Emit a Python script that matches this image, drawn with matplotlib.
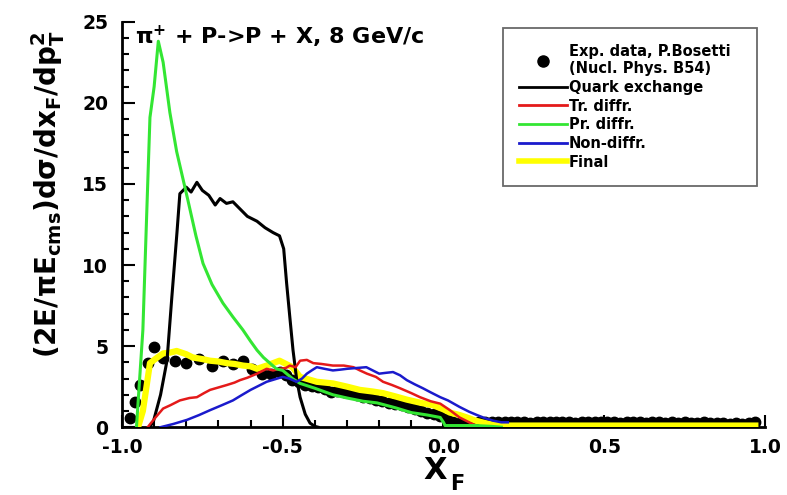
import matplotlib
matplotlib.use("Agg")
import matplotlib.pyplot as plt
from matplotlib.ticker import MultipleLocator
from matplotlib.lines import Line2D

plt.rcParams['font.family'] = ['DejaVu Sans']
plt.rcParams['font.weight'] = 'bold'
plt.rcParams['mathtext.fontset'] = 'dejavusans'
plt.rcParams['mathtext.default'] = 'bf'

# Experimental data (P. Bosetti, Nucl. Phys. B54)
exp_x = [-0.975, -0.96, -0.945, -0.92, -0.90, -0.872, -0.835, -0.80, -0.76, -0.72,
         -0.686, -0.655, -0.625, -0.595, -0.565, -0.535,
         -0.51, -0.49, -0.47, -0.45, -0.43, -0.41, -0.39, -0.37, -0.35, -0.33,
         -0.31, -0.29, -0.27, -0.25, -0.23, -0.21, -0.19, -0.17, -0.15, -0.13,
         -0.11, -0.09, -0.07, -0.05, -0.03, -0.01,
         0.01, 0.03, 0.05, 0.07, 0.09, 0.11, 0.13, 0.15, 0.17, 0.19,
         0.21, 0.23, 0.25, 0.27, 0.29, 0.31, 0.33, 0.35, 0.37, 0.39,
         0.41, 0.43, 0.45, 0.47, 0.49, 0.51, 0.53, 0.55, 0.57, 0.59,
         0.61, 0.63, 0.65, 0.67, 0.69, 0.71, 0.73, 0.75, 0.77, 0.79,
         0.81, 0.83, 0.85, 0.87, 0.89, 0.91, 0.93, 0.95, 0.97]
exp_y = [0.55, 1.55, 2.6, 3.95, 4.95, 4.25, 4.1, 3.95, 4.2, 3.8,
         4.1, 3.9, 4.1, 3.6, 3.3, 3.3,
         3.4, 3.2, 2.9, 2.8, 2.6, 2.55, 2.5, 2.35, 2.2, 2.25,
         2.2, 2.1, 2.0, 1.85, 1.8, 1.7, 1.6, 1.5, 1.45, 1.35,
         1.25, 1.1, 1.0, 0.9, 0.8, 0.7,
         0.5, 0.35, 0.25, 0.2, 0.25, 0.3, 0.3, 0.35, 0.3, 0.3,
         0.35, 0.3, 0.3, 0.25, 0.3, 0.3, 0.35, 0.3, 0.3, 0.3,
         0.25, 0.3, 0.3, 0.35, 0.3, 0.3, 0.3, 0.25, 0.3, 0.3,
         0.3, 0.25, 0.3, 0.3, 0.25, 0.3, 0.25, 0.3, 0.25, 0.25,
         0.3, 0.25, 0.25, 0.25, 0.2, 0.25, 0.2, 0.25, 0.3]

# Quark exchange
qe_x = [-0.915, -0.903, -0.88, -0.86, -0.845, -0.829, -0.82, -0.80, -0.785, -0.767,
        -0.75, -0.73, -0.71, -0.695, -0.675, -0.655, -0.63, -0.61, -0.58, -0.555,
        -0.53, -0.51, -0.497, -0.488, -0.478, -0.468, -0.457, -0.446, -0.43, -0.415,
        -0.40, -0.39]
qe_y = [0, 0.3, 2.0, 4.1, 8.0, 12.0, 14.4, 14.8, 14.5, 15.1,
        14.6, 14.3, 13.7, 14.1, 13.8, 13.9, 13.4, 13.0, 12.7, 12.3,
        12.0, 11.8, 11.0, 8.9, 6.8, 4.75, 3.0, 1.85, 0.8, 0.25,
        0.05, 0]

# Target diffraction
tr_x = [-0.92, -0.90, -0.872, -0.85, -0.82, -0.79, -0.767, -0.745, -0.726, -0.70,
        -0.674, -0.65, -0.633, -0.61, -0.58, -0.55, -0.53, -0.51, -0.49, -0.478,
        -0.46, -0.446, -0.425, -0.405, -0.38, -0.344, -0.31, -0.28, -0.26, -0.238,
        -0.21, -0.188, -0.16, -0.135, -0.10, -0.073, -0.04, -0.01, 0.02, 0.05,
        0.08, 0.10, 0.12]
tr_y = [0, 0.5, 1.15, 1.35, 1.65, 1.8, 1.85, 2.1, 2.3, 2.45,
        2.6, 2.75, 2.9, 3.05, 3.3, 3.6, 3.5, 3.6, 3.65, 3.8,
        3.7, 4.1, 4.15, 3.95, 3.9, 3.8, 3.8, 3.7, 3.5, 3.3,
        3.1, 2.8, 2.6, 2.4, 2.1, 1.85, 1.6, 1.45, 1.05, 0.6,
        0.3, 0.1, 0]

# Projectile diffraction
pr_x = [-0.955, -0.935, -0.92, -0.913, -0.90, -0.887, -0.872, -0.851, -0.83, -0.795,
        -0.77, -0.748, -0.72, -0.686, -0.655, -0.624, -0.60, -0.58, -0.56, -0.54,
        -0.52, -0.50, -0.47, -0.446, -0.40, -0.344, -0.30, -0.25, -0.207, -0.15,
        -0.10, -0.05, -0.01, 0.0, 0.005, 0.05, 0.10, 0.15, 0.18]
pr_y = [0, 6, 15, 19.1, 21.0, 23.8, 22.5, 19.4, 17.0, 14.0,
        11.8, 10.1, 8.8, 7.65, 6.8, 6.0, 5.3, 4.75, 4.3, 3.95,
        3.6, 3.5, 3.0, 2.7, 2.4, 2.0, 1.8, 1.6, 1.5, 1.2,
        0.9, 0.75, 0.6, 0.3, 0.1, 0.1, 0.1, 0.05, 0]

# Non-diffractive
nd_x = [-0.88, -0.84, -0.798, -0.76, -0.726, -0.69, -0.655, -0.63, -0.60, -0.575,
        -0.55, -0.525, -0.50, -0.48, -0.457, -0.44, -0.425, -0.41, -0.394, -0.37,
        -0.344, -0.32, -0.30, -0.27, -0.24, -0.22, -0.20, -0.18, -0.157, -0.135,
        -0.114, -0.09, -0.064, -0.04, -0.01, 0.014, 0.05, 0.08, 0.104, 0.13,
        0.155, 0.18, 0.20]
nd_y = [0, 0.2, 0.45, 0.75, 1.05, 1.35, 1.65, 1.95, 2.3, 2.55,
        2.8, 2.95, 3.1, 3.0, 2.8, 3.0, 3.3, 3.5, 3.7, 3.6,
        3.5, 3.55, 3.6, 3.65, 3.7, 3.5, 3.3, 3.35, 3.4, 3.2,
        2.9, 2.65, 2.4, 2.15, 1.85, 1.65, 1.25, 0.95, 0.75, 0.55,
        0.4, 0.3, 0.3]

# Final (sum)
fin_x = [-0.95, -0.935, -0.92, -0.913, -0.89, -0.872, -0.85, -0.83, -0.80, -0.78,
         -0.75, -0.726, -0.70, -0.674, -0.65, -0.624, -0.60, -0.58, -0.55, -0.53,
         -0.51, -0.49, -0.47, -0.446, -0.42, -0.394, -0.344, -0.30, -0.26, -0.22,
         -0.188, -0.15, -0.114, -0.07, -0.032, 0.0, 0.02, 0.05, 0.073, 0.10,
         0.13, 0.155, 0.20, 0.30, 0.50, 0.70, 0.90, 0.97]
fin_y = [0, 1.0, 3.0, 3.95, 4.3, 4.55, 4.6, 4.7, 4.5, 4.3,
         4.2, 4.1, 4.05, 3.95, 3.9, 3.8, 3.75, 3.6, 3.8, 3.95,
         4.1, 3.9, 3.7, 3.1, 2.95, 2.8, 2.7, 2.5, 2.3, 2.2,
         2.1, 1.9, 1.7, 1.5, 1.35, 1.1, 0.9, 0.75, 0.6, 0.4,
         0.25, 0.15, 0.1, 0.1, 0.1, 0.1, 0.1, 0.1]

fig = plt.figure(figsize=(7.87, 4.95), dpi=100)
ax = fig.add_axes([0.155, 0.137, 0.817, 0.819])

ax.plot(exp_x, exp_y, 'o', color='black', markersize=7.5, zorder=3)
ax.plot(fin_x, fin_y, color='#ffff00', lw=4.5, zorder=4)
ax.plot(qe_x, qe_y, color='black', lw=2.2, zorder=5)
ax.plot(tr_x, tr_y, color='#e41a1a', lw=1.8, zorder=5)
ax.plot(pr_x, pr_y, color='#33e633', lw=2.2, zorder=5)
ax.plot(nd_x, nd_y, color='#1a1acc', lw=1.8, zorder=5)

ax.set_xlim(-1.0, 1.0)
ax.set_ylim(0, 25)
ax.xaxis.set_major_locator(MultipleLocator(0.5))
ax.xaxis.set_minor_locator(MultipleLocator(0.1))
ax.yaxis.set_major_locator(MultipleLocator(5))
ax.yaxis.set_minor_locator(MultipleLocator(1))
ax.set_xticks([-1.0, -0.5, 0.0, 0.5, 1.0])
ax.set_xticklabels(['-1.0', '-0.5', '0.0', '0.5', '1.0'])
ax.tick_params(which='both', direction='in', width=1.5, labelsize=13.5)
ax.tick_params(axis='x', which='both', pad=8)
ax.tick_params(axis='y', which='both', pad=10)
ax.tick_params(which='major', length=9)
ax.tick_params(which='minor', length=5)
for s in ['top', 'right']:
    ax.spines[s].set_visible(False)
for s in ['left', 'bottom']:
    ax.spines[s].set_linewidth(2)
for lab in ax.get_xticklabels() + ax.get_yticklabels():
    lab.set_fontweight('bold')

ax.set_ylabel(r'(2E/$\pi$E$_{cms}$)d$\sigma$/dx$_F$/dp$_T^{2}$', fontsize=20, fontweight='bold')
ax.yaxis.set_label_coords(-0.086, 0.575)

# x-axis label "X" with a lowered subscript "F"
ax.set_xlabel('X', fontsize=22, fontweight='bold')
ax.xaxis.set_label_coords(0.487, -0.07)
ax.text(0.521, -0.116, 'F', transform=ax.transAxes, ha='center', va='top',
        fontsize=15, fontweight='bold', clip_on=False)

ax.text(0.02, 0.995, r'$\pi^{+}$ + P->P + X, 8 GeV/c', transform=ax.transAxes,
        ha='left', va='top', fontsize=16, fontweight='bold')

handles = [
    Line2D([], [], ls='none', marker='o', color='black', markersize=8),
    Line2D([], [], color='black', lw=2),
    Line2D([], [], color='#e41a1a', lw=2),
    Line2D([], [], color='#33e633', lw=2),
    Line2D([], [], color='#1a1acc', lw=2),
    Line2D([], [], color='#ffff00', lw=4),
]
labels = ['Exp. data, P.Bosetti\n(Nucl. Phys. B54)', 'Quark exchange', 'Tr. diffr.',
          'Pr. diffr.', 'Non-diffr.', 'Final']
leg = ax.legend(handles, labels, loc='upper left', bbox_to_anchor=(0.593, 0.985, 0.395, 0.0),
                mode='expand', fontsize=10.5, frameon=True, fancybox=False, edgecolor='#444444',
                handlelength=3.3, handletextpad=0.1, labelspacing=0.25, borderpad=1.1,
                borderaxespad=0)
leg.get_frame().set_linewidth(1.3)
for t in leg.get_texts():
    t.set_fontweight('bold')

fig.savefig('out.png', dpi=100)
